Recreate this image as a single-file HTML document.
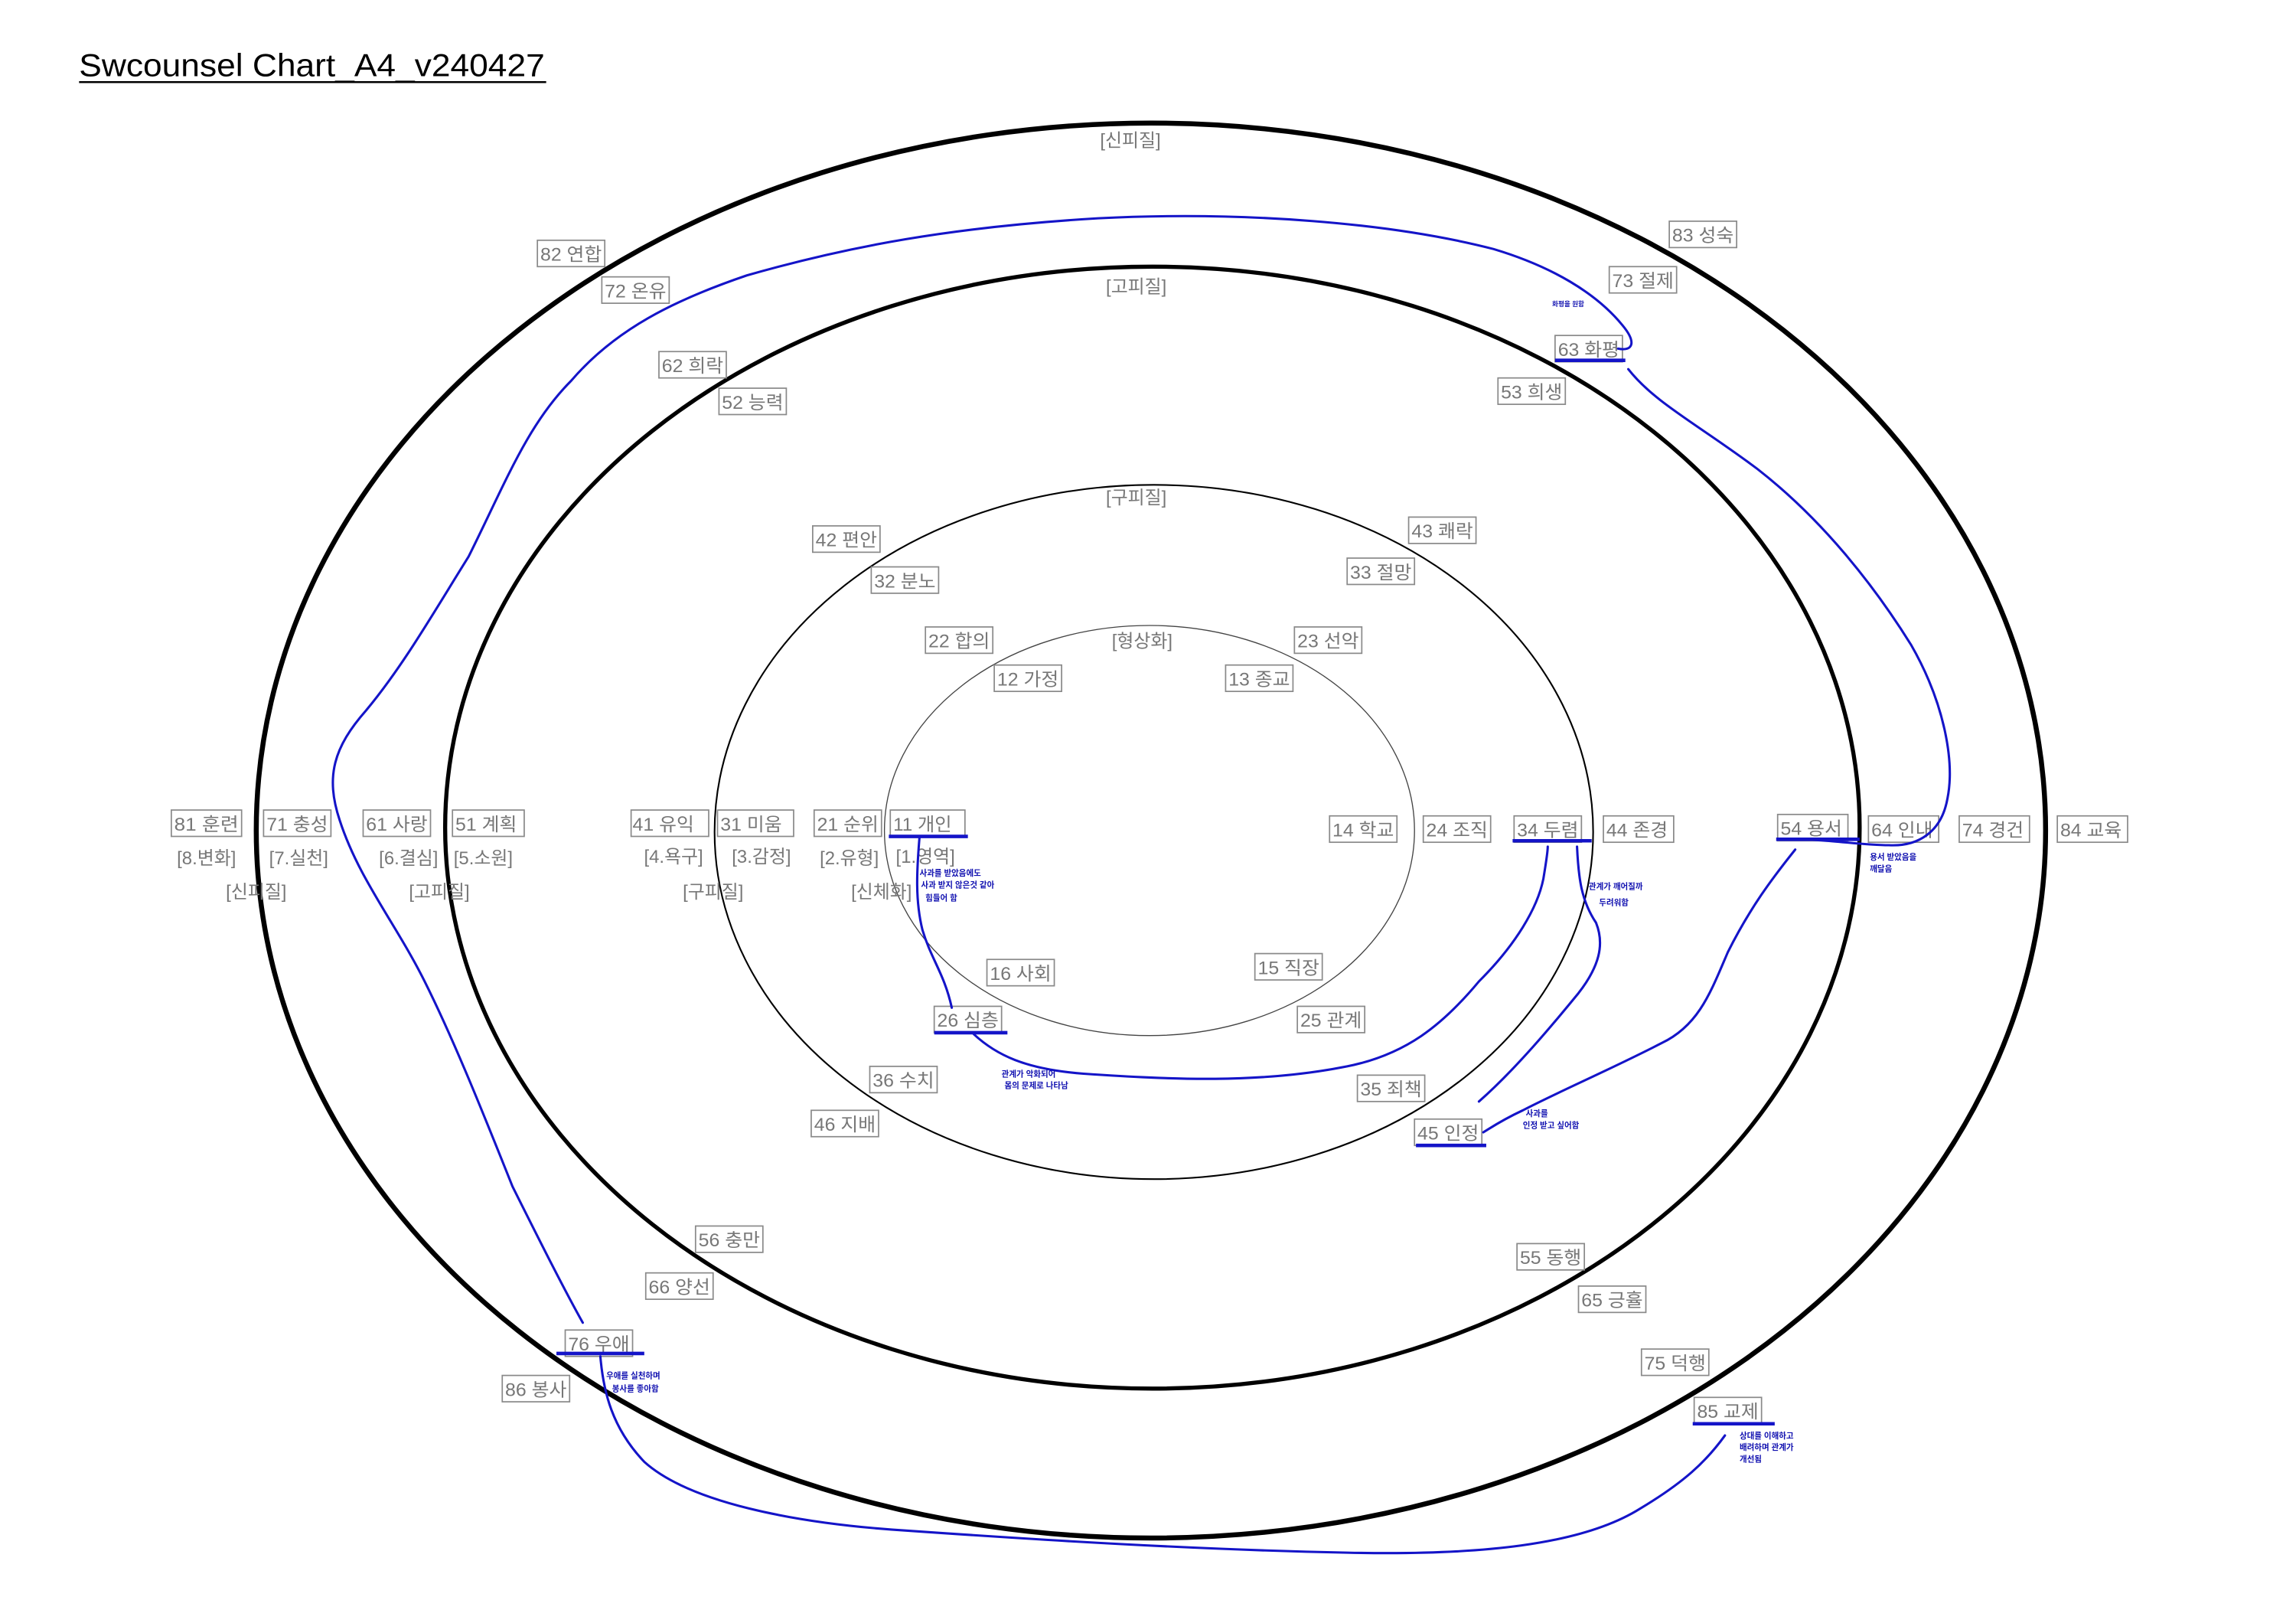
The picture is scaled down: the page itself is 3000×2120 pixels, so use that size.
<!DOCTYPE html>
<html><head><meta charset="utf-8"><style>
html,body{margin:0;padding:0;background:#fff;}
svg{display:block;}
.l{font-family:"Liberation Sans","Noto Sans CJK KR",sans-serif;font-size:12.5px;fill:#777;}
.b{fill:none;stroke:#8a8a8a;stroke-width:0.9;}
.n{font-family:"Liberation Sans","Noto Sans CJK KR",sans-serif;font-size:5.5px;fill:#1010b0;font-weight:bold;}
.bl{fill:none;stroke:#1414c8;stroke-width:1.6;stroke-linecap:round;stroke-linejoin:round;}
.ul{stroke:#1414c8;stroke-width:2.4;}
</style></head><body>
<svg width="3000" height="2120" viewBox="0 0 1568 1108" xmlns="http://www.w3.org/2000/svg">
<text x="54" y="52" font-family="Liberation Sans, sans-serif" font-size="22" fill="#000" textLength="318" lengthAdjust="spacingAndGlyphs">Swcounsel Chart_A4_v240427</text>
<line x1="54" y1="56" x2="373" y2="56" stroke="#000" stroke-width="1.3"/>

<ellipse cx="786" cy="567" rx="611" ry="483" fill="none" stroke="#000" stroke-width="3.4"/>
<ellipse cx="787" cy="565" rx="483" ry="383" fill="none" stroke="#000" stroke-width="2.8"/>
<ellipse cx="788" cy="568" rx="300" ry="237" fill="none" stroke="#000" stroke-width="1.1"/>
<ellipse cx="785" cy="567" rx="181" ry="140" fill="none" stroke="#444" stroke-width="0.7"/>

<g class="l" text-anchor="middle">
<text x="772" y="100">[신피질]</text>
<text x="776" y="200">[고피질]</text>
<text x="776" y="344">[구피질]</text>
<text x="780" y="442">[형상화]</text>
<text x="141" y="590">[8.변화]</text>
<text x="204" y="590">[7.실천]</text>
<text x="279" y="590">[6.결심]</text>
<text x="330" y="590">[5.소원]</text>
<text x="460" y="589">[4.욕구]</text>
<text x="520" y="589">[3.감정]</text>
<text x="580" y="590">[2.유형]</text>
<text x="632" y="589">[1.영역]</text>
<text x="175" y="613">[신피질]</text>
<text x="300" y="613">[고피질]</text>
<text x="487" y="613">[구피질]</text>
<text x="602" y="613">[신체화]</text>
</g>

<g id="boxes">
<!-- each: rect centered -->
<g><rect class="b" x="367" y="164" width="46" height="18"/><text class="l" x="369" y="178" textLength="42" lengthAdjust="spacingAndGlyphs">82 연합</text></g>
<g><rect class="b" x="411" y="189" width="46" height="18"/><text class="l" x="413" y="203" textLength="42" lengthAdjust="spacingAndGlyphs">72 온유</text></g>
<g><rect class="b" x="450" y="240" width="46" height="18"/><text class="l" x="452" y="254" textLength="42" lengthAdjust="spacingAndGlyphs">62 희락</text></g>
<g><rect class="b" x="491" y="265" width="46" height="18"/><text class="l" x="493" y="279" textLength="42" lengthAdjust="spacingAndGlyphs">52 능력</text></g>
<g><rect class="b" x="1140" y="151" width="46" height="18"/><text class="l" x="1142" y="165" textLength="42" lengthAdjust="spacingAndGlyphs">83 성숙</text></g>
<g><rect class="b" x="1099" y="182" width="46" height="18"/><text class="l" x="1101" y="196" textLength="42" lengthAdjust="spacingAndGlyphs">73 절제</text></g>
<g><rect class="b" x="1062" y="229" width="46" height="18"/><text class="l" x="1064" y="243" textLength="42" lengthAdjust="spacingAndGlyphs">63 화평</text></g>
<g><rect class="b" x="1023" y="258" width="46" height="18"/><text class="l" x="1025" y="272" textLength="42" lengthAdjust="spacingAndGlyphs">53 희생</text></g>
<g><rect class="b" x="555" y="359" width="46" height="18"/><text class="l" x="557" y="373" textLength="42" lengthAdjust="spacingAndGlyphs">42 편안</text></g>
<g><rect class="b" x="595" y="387" width="46" height="18"/><text class="l" x="597" y="401" textLength="42" lengthAdjust="spacingAndGlyphs">32 분노</text></g>
<g><rect class="b" x="962" y="353" width="46" height="18"/><text class="l" x="964" y="367" textLength="42" lengthAdjust="spacingAndGlyphs">43 쾌락</text></g>
<g><rect class="b" x="920" y="381" width="46" height="18"/><text class="l" x="922" y="395" textLength="42" lengthAdjust="spacingAndGlyphs">33 절망</text></g>
<g><rect class="b" x="632" y="428" width="46" height="18"/><text class="l" x="634" y="442" textLength="42" lengthAdjust="spacingAndGlyphs">22 합의</text></g>
<g><rect class="b" x="679" y="454" width="46" height="18"/><text class="l" x="681" y="468" textLength="42" lengthAdjust="spacingAndGlyphs">12 가정</text></g>
<g><rect class="b" x="884" y="428" width="46" height="18"/><text class="l" x="886" y="442" textLength="42" lengthAdjust="spacingAndGlyphs">23 선악</text></g>
<g><rect class="b" x="837" y="454" width="46" height="18"/><text class="l" x="839" y="468" textLength="42" lengthAdjust="spacingAndGlyphs">13 종교</text></g>

<g><rect class="b" x="117" y="553" width="48" height="18"/><text class="l" x="119" y="567" textLength="44" lengthAdjust="spacingAndGlyphs">81 훈련</text></g>
<g><rect class="b" x="180" y="553" width="46" height="18"/><text class="l" x="182" y="567" textLength="42" lengthAdjust="spacingAndGlyphs">71 충성</text></g>
<g><rect class="b" x="248" y="553" width="46" height="18"/><text class="l" x="250" y="567" textLength="42" lengthAdjust="spacingAndGlyphs">61 사랑</text></g>
<g><rect class="b" x="309" y="553" width="49" height="18"/><text class="l" x="311" y="567" textLength="42" lengthAdjust="spacingAndGlyphs">51 계획</text></g>
<g><rect class="b" x="431" y="553" width="53" height="18"/><text class="l" x="432" y="567" textLength="42" lengthAdjust="spacingAndGlyphs">41 유익</text></g>
<g><rect class="b" x="490" y="553" width="52" height="18"/><text class="l" x="492" y="567" textLength="42" lengthAdjust="spacingAndGlyphs">31 미움</text></g>
<g><rect class="b" x="556" y="553" width="46" height="18"/><text class="l" x="558" y="567" textLength="42" lengthAdjust="spacingAndGlyphs">21 순위</text></g>
<g><rect class="b" x="608" y="553" width="51" height="18"/><text class="l" x="610" y="567" textLength="40" lengthAdjust="spacingAndGlyphs">11 개인</text></g>
<g><rect class="b" x="908" y="557" width="46" height="18"/><text class="l" x="910" y="571" textLength="42" lengthAdjust="spacingAndGlyphs">14 학교</text></g>
<g><rect class="b" x="972" y="557" width="46" height="18"/><text class="l" x="974" y="571" textLength="42" lengthAdjust="spacingAndGlyphs">24 조직</text></g>
<g><rect class="b" x="1034" y="557" width="46" height="18"/><text class="l" x="1036" y="571" textLength="42" lengthAdjust="spacingAndGlyphs">34 두렴</text></g>
<g><rect class="b" x="1095" y="557" width="48" height="18"/><text class="l" x="1097" y="571" textLength="42" lengthAdjust="spacingAndGlyphs">44 존경</text></g>
<g><rect class="b" x="1214" y="556" width="48" height="18"/><text class="l" x="1216" y="570" textLength="42" lengthAdjust="spacingAndGlyphs">54 용서</text></g>
<g><rect class="b" x="1276" y="557" width="48" height="18"/><text class="l" x="1278" y="571" textLength="42" lengthAdjust="spacingAndGlyphs">64 인내</text></g>
<g><rect class="b" x="1338" y="557" width="48" height="18"/><text class="l" x="1340" y="571" textLength="42" lengthAdjust="spacingAndGlyphs">74 경건</text></g>
<g><rect class="b" x="1405" y="557" width="48" height="18"/><text class="l" x="1407" y="571" textLength="42" lengthAdjust="spacingAndGlyphs">84 교육</text></g>

<g><rect class="b" x="674" y="655" width="46" height="18"/><text class="l" x="676" y="669" textLength="42" lengthAdjust="spacingAndGlyphs">16 사회</text></g>
<g><rect class="b" x="857" y="651" width="46" height="18"/><text class="l" x="859" y="665" textLength="42" lengthAdjust="spacingAndGlyphs">15 직장</text></g>
<g><rect class="b" x="638" y="687" width="46" height="18"/><text class="l" x="640" y="701" textLength="42" lengthAdjust="spacingAndGlyphs">26 심층</text></g>
<g><rect class="b" x="886" y="687" width="46" height="18"/><text class="l" x="888" y="701" textLength="42" lengthAdjust="spacingAndGlyphs">25 관계</text></g>
<g><rect class="b" x="594" y="728" width="46" height="18"/><text class="l" x="596" y="742" textLength="42" lengthAdjust="spacingAndGlyphs">36 수치</text></g>
<g><rect class="b" x="927" y="734" width="46" height="18"/><text class="l" x="929" y="748" textLength="42" lengthAdjust="spacingAndGlyphs">35 죄책</text></g>
<g><rect class="b" x="554" y="758" width="46" height="18"/><text class="l" x="556" y="772" textLength="42" lengthAdjust="spacingAndGlyphs">46 지배</text></g>
<g><rect class="b" x="966" y="764" width="46" height="18"/><text class="l" x="968" y="778" textLength="42" lengthAdjust="spacingAndGlyphs">45 인정</text></g>
<g><rect class="b" x="475" y="837" width="46" height="18"/><text class="l" x="477" y="851" textLength="42" lengthAdjust="spacingAndGlyphs">56 충만</text></g>
<g><rect class="b" x="441" y="869" width="46" height="18"/><text class="l" x="443" y="883" textLength="42" lengthAdjust="spacingAndGlyphs">66 양선</text></g>
<g><rect class="b" x="1036" y="849" width="46" height="18"/><text class="l" x="1038" y="863" textLength="42" lengthAdjust="spacingAndGlyphs">55 동행</text></g>
<g><rect class="b" x="1078" y="878" width="46" height="18"/><text class="l" x="1080" y="892" textLength="42" lengthAdjust="spacingAndGlyphs">65 긍휼</text></g>
<g><rect class="b" x="386" y="908" width="46" height="18"/><text class="l" x="388" y="922" textLength="42" lengthAdjust="spacingAndGlyphs">76 우애</text></g>
<g><rect class="b" x="343" y="939" width="46" height="18"/><text class="l" x="345" y="953" textLength="42" lengthAdjust="spacingAndGlyphs">86 봉사</text></g>
<g><rect class="b" x="1121" y="921" width="46" height="18"/><text class="l" x="1123" y="935" textLength="42" lengthAdjust="spacingAndGlyphs">75 덕행</text></g>
<g><rect class="b" x="1157" y="954" width="46" height="18"/><text class="l" x="1159" y="968" textLength="42" lengthAdjust="spacingAndGlyphs">85 교제</text></g>
</g>

<!-- underlines -->
<line class="ul" x1="607" y1="571" x2="661" y2="571"/>
<line class="ul" x1="638" y1="705" x2="688" y2="705"/>
<line class="ul" x1="1033" y1="574" x2="1087" y2="574"/>
<line class="ul" x1="967" y1="782" x2="1015" y2="782"/>
<line class="ul" x1="1213" y1="573" x2="1270" y2="573"/>
<line class="ul" x1="1062" y1="246" x2="1110" y2="246"/>
<line class="ul" x1="380" y1="924" x2="440" y2="924"/>
<line class="ul" x1="1156" y1="972" x2="1212" y2="972"/>

<!-- blue hand-drawn lines -->
<path class="bl" d="M398,903 C385,880 365,840 350,810 C330,760 310,710 290,670 C270,630 245,600 232,560 C222,530 228,510 250,485 C275,455 295,420 320,380 C345,330 360,290 390,260 C420,225 460,205 510,188 C580,168 650,155 750,149 C850,144 950,152 1020,170 C1060,182 1090,200 1108,222 C1118,234 1115,240 1105,238"/>
<path class="bl" d="M1112,252 C1130,275 1160,290 1200,320 C1245,355 1280,400 1305,440 C1328,480 1335,520 1330,545 C1326,568 1310,578 1290,577 C1270,577 1250,573 1225,573"/>
<path class="bl" d="M628,571 C626,595 625,615 630,635 C636,655 645,665 650,688"/>
<path class="bl" d="M665,706 C680,720 700,730 740,733 C800,737 860,740 920,728 C960,720 985,700 1010,670 C1035,645 1050,620 1054,600 C1056,588 1057,580 1057,578"/>
<path class="bl" d="M1077,578 C1078,600 1080,615 1090,630 C1096,645 1092,660 1078,678 C1060,700 1035,730 1010,752"/>
<path class="bl" d="M1226,580 C1210,600 1195,620 1180,650 C1168,678 1160,700 1135,712 C1100,730 1065,745 1040,758 C1025,765 1018,770 1013,773"/>
<path class="bl" d="M410,926 C412,950 418,975 440,998 C470,1025 540,1040 620,1045 C720,1052 820,1058 920,1060 C1010,1062 1080,1055 1120,1030 C1150,1012 1165,998 1178,980"/>

<!-- notes -->
<g class="n">
<text x="628" y="598">사과를 받았음에도</text>
<text x="629" y="606">사과 받지 않은것 같아</text>
<text x="632" y="615">힘들어 함</text>
<text x="684" y="735">관계가 악화되어</text>
<text x="686" y="743">몸의 문제로 나타남</text>
<text x="1085" y="607">관계가 깨어질까</text>
<text x="1092" y="618">두려워함</text>
<text x="1277" y="587">용서 받았음을</text>
<text x="1277" y="595">깨달음</text>
<text x="1042" y="762">사과를</text>
<text x="1040" y="770">인정 받고 싶어함</text>
<text x="414" y="941">우애를 실천하며</text>
<text x="418" y="950">봉사를 좋아함</text>
<text x="1188" y="982">상대를 이해하고</text>
<text x="1188" y="990">배려하며 관계가</text>
<text x="1188" y="998">개선됨</text>
<text x="1060" y="209" font-size="4.5">화평을 원함</text>
</g>
</svg>
</body></html>
